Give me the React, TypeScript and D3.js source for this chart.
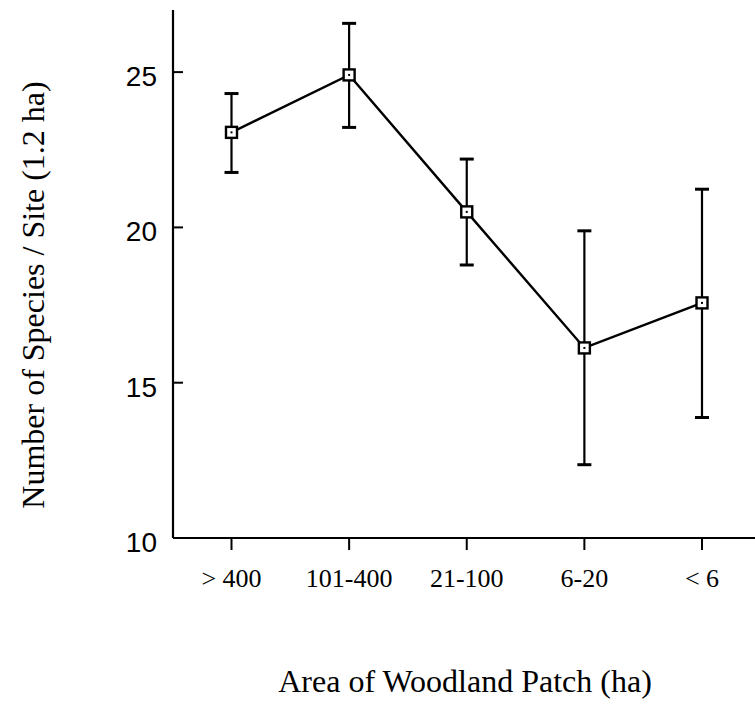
import React, { useRef, useEffect } from 'react';
import * as d3 from 'd3';

// patch size classes (ha)
const categories = ['> 400', '101-400', '21-100', '6-20', '< 6'];
// mean number of species per site
const means = [23.06, 24.91, 20.5, 16.12, 17.57];
// error bar ends
const upper = [24.31, 26.57, 22.2, 19.89, 21.23];
const lower = [21.77, 23.22, 18.79, 12.36, 13.88];
const yTicks = [10, 15, 20, 25];

const W = 755;
const H = 706;
const serif = '"Liberation Serif", "Times New Roman", serif';
const sans = '"Liberation Sans", Arial, sans-serif';

const App = () => {
    const ref = useRef(null);

    useEffect(() => {
        const svg = d3.select(ref.current);
        svg.selectAll('*').remove();

        const axisX = 173;
        const baseY = 538;

        const x = d3.scalePoint().domain(categories).range([231.5, 702]);
        const y = d3.scaleLinear().domain([10, 27]).range([baseY, 10]);

        const data = categories.map((c, i) => ({ c, m: means[i], hi: upper[i], lo: lower[i] }));

        // axes
        svg.append('line')
            .attr('x1', axisX).attr('x2', axisX)
            .attr('y1', y(27)).attr('y2', baseY)
            .attr('stroke', '#000').attr('stroke-width', 2.2);
        svg.append('line')
            .attr('x1', axisX).attr('x2', W)
            .attr('y1', baseY).attr('y2', baseY)
            .attr('stroke', '#000').attr('stroke-width', 2.2);

        // y ticks + labels
        const yt = svg.append('g').selectAll('g').data(yTicks).join('g');
        yt.filter(d => d !== 10).append('line')
            .attr('x1', axisX).attr('x2', axisX + 10)
            .attr('y1', d => y(d)).attr('y2', d => y(d))
            .attr('stroke', '#000').attr('stroke-width', 2);
        yt.append('text')
            .attr('x', axisX - 16)
            .attr('y', d => y(d) + 14)
            .attr('text-anchor', 'end')
            .attr('font-family', sans)
            .attr('font-size', 28)
            .text(d => d);

        // x ticks + labels
        const xt = svg.append('g').selectAll('g').data(categories).join('g');
        xt.append('line')
            .attr('x1', d => x(d)).attr('x2', d => x(d))
            .attr('y1', baseY).attr('y2', baseY + 12)
            .attr('stroke', '#000').attr('stroke-width', 2);
        xt.append('text')
            .attr('x', d => x(d))
            .attr('y', baseY + 49)
            .attr('text-anchor', 'middle')
            .attr('font-family', serif)
            .attr('font-size', 26)
            .text(d => d);

        // error bars
        const eb = svg.append('g').selectAll('g').data(data).join('g')
            .attr('stroke', '#000').attr('stroke-width', 2.2);
        eb.append('line')
            .attr('x1', d => x(d.c)).attr('x2', d => x(d.c))
            .attr('y1', d => y(d.hi)).attr('y2', d => y(d.lo));
        eb.append('line')
            .attr('x1', d => x(d.c) - 7).attr('x2', d => x(d.c) + 7)
            .attr('y1', d => y(d.hi)).attr('y2', d => y(d.hi))
            .attr('stroke-width', 3);
        eb.append('line')
            .attr('x1', d => x(d.c) - 7).attr('x2', d => x(d.c) + 7)
            .attr('y1', d => y(d.lo)).attr('y2', d => y(d.lo))
            .attr('stroke-width', 3);

        // mean line
        const line = d3.line().x(d => x(d.c)).y(d => y(d.m));
        svg.append('path')
            .datum(data)
            .attr('d', line)
            .attr('fill', 'none')
            .attr('stroke', '#000')
            .attr('stroke-width', 2.4);

        // square markers with a dot inside
        const mk = svg.append('g').selectAll('g').data(data).join('g');
        mk.append('rect')
            .attr('x', d => x(d.c) - 5.5).attr('y', d => y(d.m) - 5.5)
            .attr('width', 11).attr('height', 11)
            .attr('fill', '#fff').attr('stroke', '#000').attr('stroke-width', 2.4);
        mk.append('rect')
            .attr('x', d => x(d.c) - 1).attr('y', d => y(d.m) - 1)
            .attr('width', 2).attr('height', 2)
            .attr('fill', '#000');

        // axis titles
        svg.append('text')
            .attr('transform', `translate(44,295) rotate(-90)`)
            .attr('text-anchor', 'middle')
            .attr('font-family', serif)
            .attr('font-size', 32)
            .text('Number of Species / Site (1.2 ha)');

        svg.append('text')
            .attr('x', 465)
            .attr('y', 692)
            .attr('text-anchor', 'middle')
            .attr('font-family', serif)
            .attr('font-size', 32)
            .text('Area of Woodland Patch (ha)');
    }, []);

    return (
        <svg ref={ref} width={W} height={H}
            style={{ position: 'absolute', left: 0, top: 0, background: '#fff' }} />
    );
};

export default App;
